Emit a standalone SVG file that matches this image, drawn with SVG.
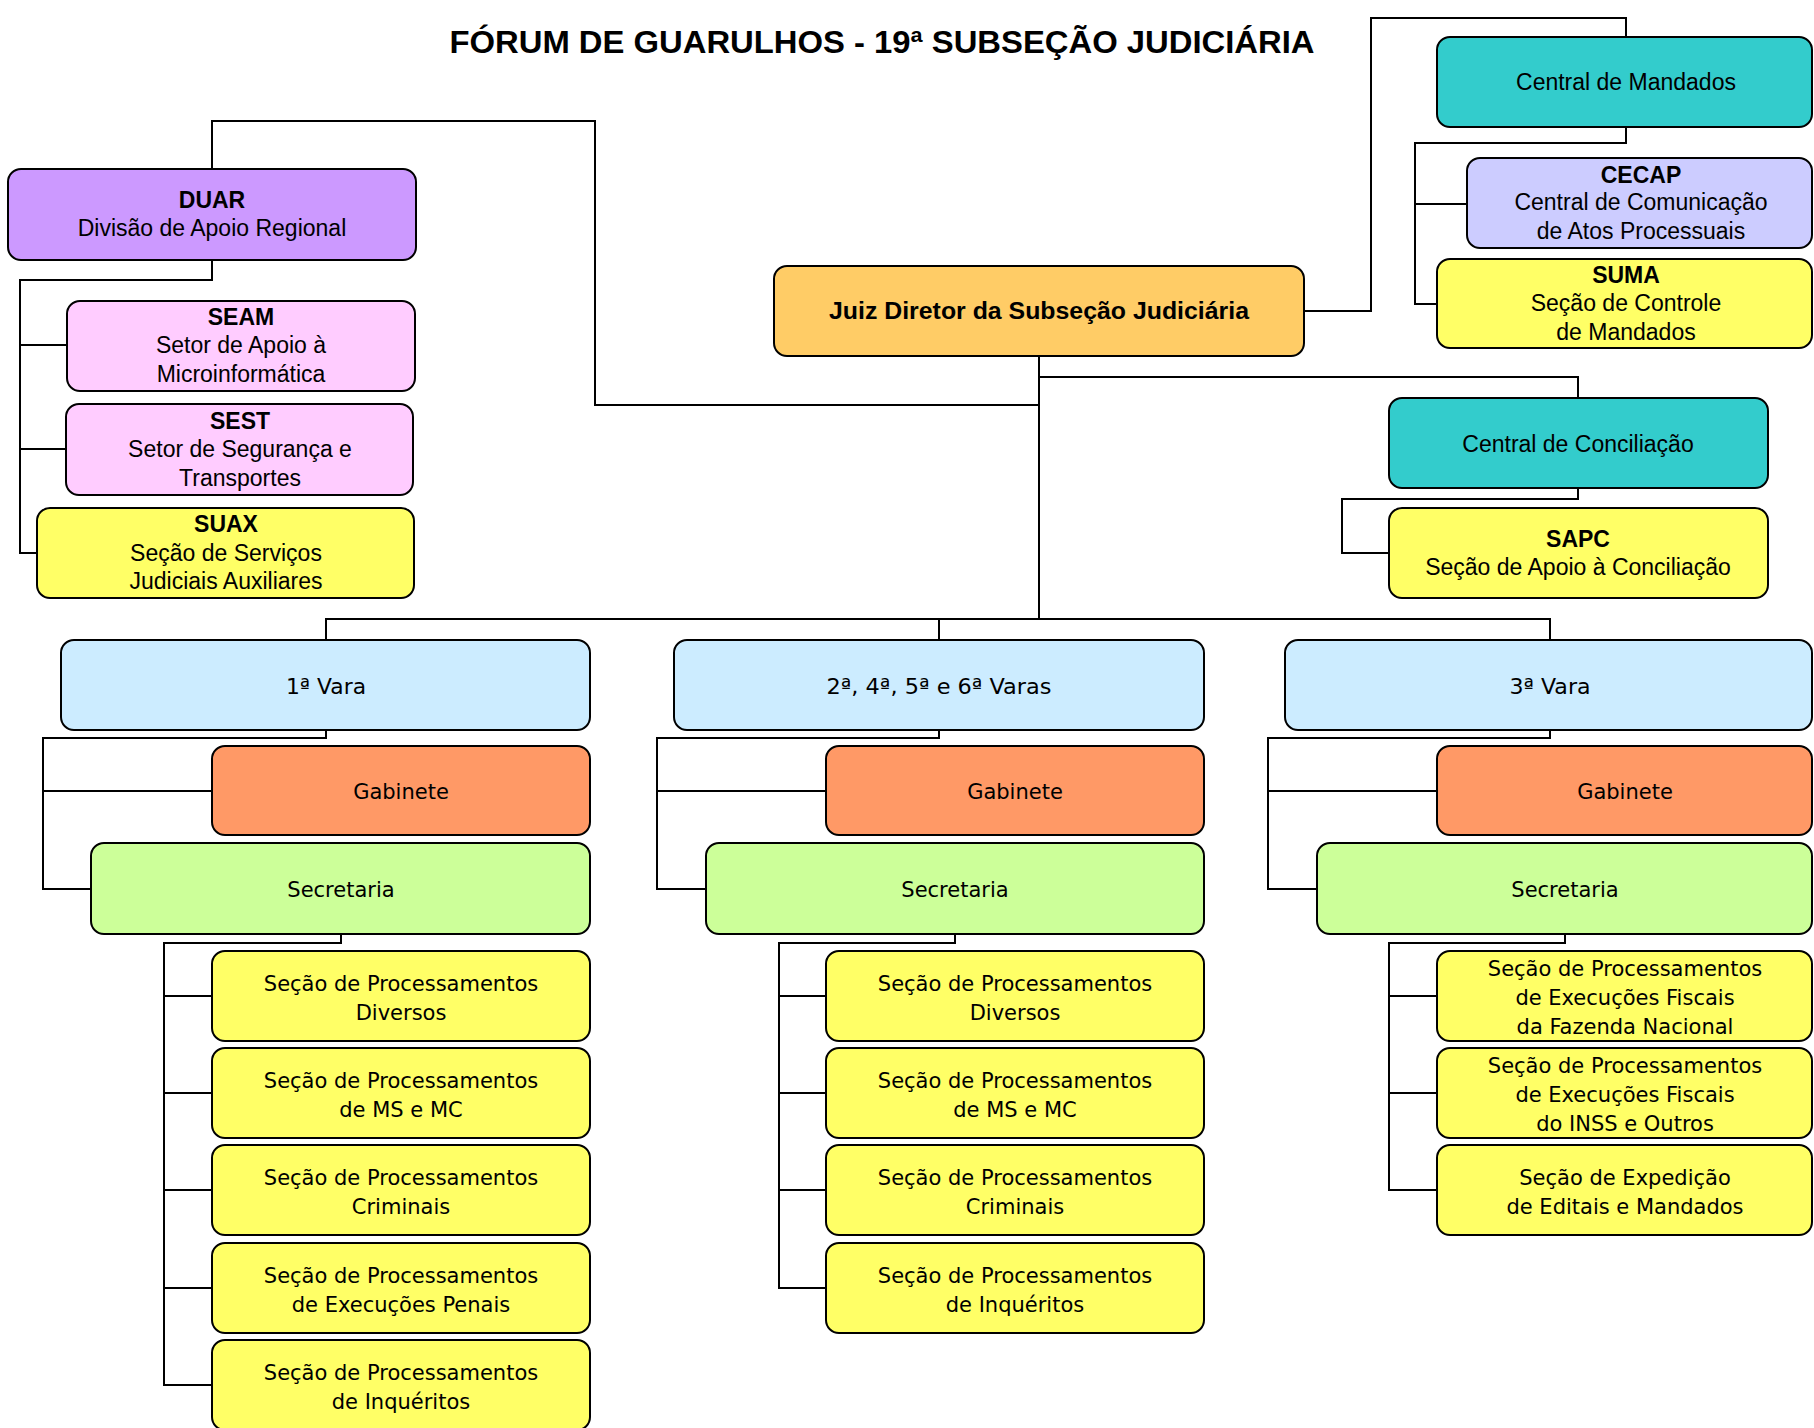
<svg xmlns="http://www.w3.org/2000/svg" width="1814" height="1428" viewBox="0 0 1814 1428">
<style>
.b{stroke:#000;stroke-width:2}
.t{font-family:"Liberation Sans",Arial,sans-serif;font-size:23px;text-anchor:middle;fill:#000}
.tb{font-weight:bold}
.v{font-family:"DejaVu Sans",Verdana,sans-serif;font-size:21px;text-anchor:middle;fill:#000}
.c{fill:none;stroke:#000;stroke-width:2}
.purple{fill:#CC99FF}.pink{fill:#FFCCFF}.yellow{fill:#FFFF66}.orange{fill:#FFCC66}
.teal{fill:#33CCCC}.lilac{fill:#CCCCFF}.blue{fill:#CCECFF}.gab{fill:#FF9966}.green{fill:#CCFF99}
</style>
<rect width="1814" height="1428" fill="#fff"/>
<text x="882" y="53" class="t tb" style="font-size:32px" textLength="865" lengthAdjust="spacingAndGlyphs">FÓRUM DE GUARULHOS - 19ª SUBSEÇÃO JUDICIÁRIA</text>
<g id="connectors" class="c">
<path d="M212,169 V121 H595 V405 H1039"/>
<path d="M1304,311 H1371 V18 H1626 V37"/>
<path d="M1626,127 V143 H1415 V304 H1437 M1415,204 H1467"/>
<path d="M1039,356 V619 M1039,377 H1578 V398"/>
<path d="M1578,488 V499 H1342 V553 H1389"/>
<path d="M326,640 V619 H1550 V640 M939,619 V640"/>
<path d="M212,260 V280 H20 V553 H37 M20,345 H67 M20,449 H66"/>
<path d="M326,730 V738 H43 V889 H91 M43,791 H212"/>
<path d="M341,934 V943 H164 V1385 H212 M164,996 H212 M164,1093 H212 M164,1190 H212 M164,1288 H212"/>
<path d="M939,730 V738 H657 V889 H706 M657,791 H826"/>
<path d="M955,934 V943 H779 V1288 H826 M779,996 H826 M779,1093 H826 M779,1190 H826"/>
<path d="M1550,730 V738 H1268 V889 H1317 M1268,791 H1437"/>
<path d="M1565,934 V943 H1389 V1190 H1437 M1389,996 H1437 M1389,1093 H1437"/>
</g>
<g id="duar"><rect class="b purple" x="8" y="169" width="408" height="91" rx="13"/><text class="t tb" x="212" y="208">DUAR</text><text class="t" x="212" y="236">Divisão de Apoio Regional</text></g>
<g id="seam"><rect class="b pink" x="67" y="301" width="348" height="90" rx="13"/><text class="t tb" x="241" y="325">SEAM</text><text class="t" x="241" y="353">Setor de Apoio à</text><text class="t" x="241" y="382">Microinformática</text></g>
<g id="sest"><rect class="b pink" x="66" y="404" width="347" height="91" rx="13"/><text class="t tb" x="240" y="429">SEST</text><text class="t" x="240" y="457">Setor de Segurança e</text><text class="t" x="240" y="486">Transportes</text></g>
<g id="suax"><rect class="b yellow" x="37" y="508" width="377" height="90" rx="13"/><text class="t tb" x="226" y="532">SUAX</text><text class="t" x="226" y="561">Seção de Serviços</text><text class="t" x="226" y="589">Judiciais Auxiliares</text></g>
<g id="juiz"><rect class="b orange" x="774" y="266" width="530" height="90" rx="13"/><text class="t tb" x="1039" y="319" textLength="420" lengthAdjust="spacingAndGlyphs">Juiz Diretor da Subseção Judiciária</text></g>
<g id="central-mandados"><rect class="b teal" x="1437" y="37" width="375" height="90" rx="13"/><text class="t" x="1626" y="90">Central de Mandados</text></g>
<g id="cecap"><rect class="b lilac" x="1467" y="158" width="345" height="90" rx="13"/><text class="t tb" x="1641" y="183">CECAP</text><text class="t" x="1641" y="210">Central de Comunicação</text><text class="t" x="1641" y="239">de Atos Processuais</text></g>
<g id="suma"><rect class="b yellow" x="1437" y="259" width="375" height="89" rx="13"/><text class="t tb" x="1626" y="283">SUMA</text><text class="t" x="1626" y="311">Seção de Controle</text><text class="t" x="1626" y="340">de Mandados</text></g>
<g id="central-conciliacao"><rect class="b teal" x="1389" y="398" width="379" height="90" rx="13"/><text class="t" x="1578" y="452">Central de Conciliação</text></g>
<g id="sapc"><rect class="b yellow" x="1389" y="508" width="379" height="90" rx="13"/><text class="t tb" x="1578" y="547">SAPC</text><text class="t" x="1578" y="575">Seção de Apoio à Conciliação</text></g>
<g id="vara1"><rect class="b blue" x="61" y="640" width="529" height="90" rx="13"/><text class="v" x="326" y="694" textLength="80" lengthAdjust="spacingAndGlyphs">1ª Vara</text></g>
<g id="vara2"><rect class="b blue" x="674" y="640" width="530" height="90" rx="13"/><text class="v" x="939" y="694" textLength="225" lengthAdjust="spacingAndGlyphs">2ª, 4ª, 5ª e 6ª Varas</text></g>
<g id="vara3"><rect class="b blue" x="1285" y="640" width="527" height="90" rx="13"/><text class="v" x="1550" y="694" textLength="81" lengthAdjust="spacingAndGlyphs">3ª Vara</text></g>
<g id="gab1"><rect class="b gab" x="212" y="746" width="378" height="89" rx="13"/><text class="v" x="401" y="799">Gabinete</text></g>
<g id="gab2"><rect class="b gab" x="826" y="746" width="378" height="89" rx="13"/><text class="v" x="1015" y="799">Gabinete</text></g>
<g id="gab3"><rect class="b gab" x="1437" y="746" width="375" height="89" rx="13"/><text class="v" x="1625" y="799">Gabinete</text></g>
<g id="sec1"><rect class="b green" x="91" y="843" width="499" height="91" rx="13"/><text class="v" x="341" y="897">Secretaria</text></g>
<g id="sec2"><rect class="b green" x="706" y="843" width="498" height="91" rx="13"/><text class="v" x="955" y="897">Secretaria</text></g>
<g id="sec3"><rect class="b green" x="1317" y="843" width="495" height="91" rx="13"/><text class="v" x="1565" y="897">Secretaria</text></g>
<g id="s1a"><rect class="b yellow" x="212" y="951" width="378" height="90" rx="13"/><text class="v" x="401" y="991">Seção de Processamentos</text><text class="v" x="401" y="1020">Diversos</text></g>
<g id="s1b"><rect class="b yellow" x="212" y="1048" width="378" height="90" rx="13"/><text class="v" x="401" y="1088">Seção de Processamentos</text><text class="v" x="401" y="1117">de MS e MC</text></g>
<g id="s1c"><rect class="b yellow" x="212" y="1145" width="378" height="90" rx="13"/><text class="v" x="401" y="1185">Seção de Processamentos</text><text class="v" x="401" y="1214">Criminais</text></g>
<g id="s1d"><rect class="b yellow" x="212" y="1243" width="378" height="90" rx="13"/><text class="v" x="401" y="1283">Seção de Processamentos</text><text class="v" x="401" y="1312">de Execuções Penais</text></g>
<g id="s1e"><rect class="b yellow" x="212" y="1340" width="378" height="90" rx="13"/><text class="v" x="401" y="1380">Seção de Processamentos</text><text class="v" x="401" y="1409">de Inquéritos</text></g>
<g id="s2a"><rect class="b yellow" x="826" y="951" width="378" height="90" rx="13"/><text class="v" x="1015" y="991">Seção de Processamentos</text><text class="v" x="1015" y="1020">Diversos</text></g>
<g id="s2b"><rect class="b yellow" x="826" y="1048" width="378" height="90" rx="13"/><text class="v" x="1015" y="1088">Seção de Processamentos</text><text class="v" x="1015" y="1117">de MS e MC</text></g>
<g id="s2c"><rect class="b yellow" x="826" y="1145" width="378" height="90" rx="13"/><text class="v" x="1015" y="1185">Seção de Processamentos</text><text class="v" x="1015" y="1214">Criminais</text></g>
<g id="s2d"><rect class="b yellow" x="826" y="1243" width="378" height="90" rx="13"/><text class="v" x="1015" y="1283">Seção de Processamentos</text><text class="v" x="1015" y="1312">de Inquéritos</text></g>
<g id="s3a"><rect class="b yellow" x="1437" y="951" width="375" height="90" rx="13"/><text class="v" x="1625" y="976">Seção de Processamentos</text><text class="v" x="1625" y="1005">de Execuções Fiscais</text><text class="v" x="1625" y="1034">da Fazenda Nacional</text></g>
<g id="s3b"><rect class="b yellow" x="1437" y="1048" width="375" height="90" rx="13"/><text class="v" x="1625" y="1073">Seção de Processamentos</text><text class="v" x="1625" y="1102">de Execuções Fiscais</text><text class="v" x="1625" y="1131">do INSS e Outros</text></g>
<g id="s3c"><rect class="b yellow" x="1437" y="1145" width="375" height="90" rx="13"/><text class="v" x="1625" y="1185">Seção de Expedição</text><text class="v" x="1625" y="1214">de Editais e Mandados</text></g>
</svg>
